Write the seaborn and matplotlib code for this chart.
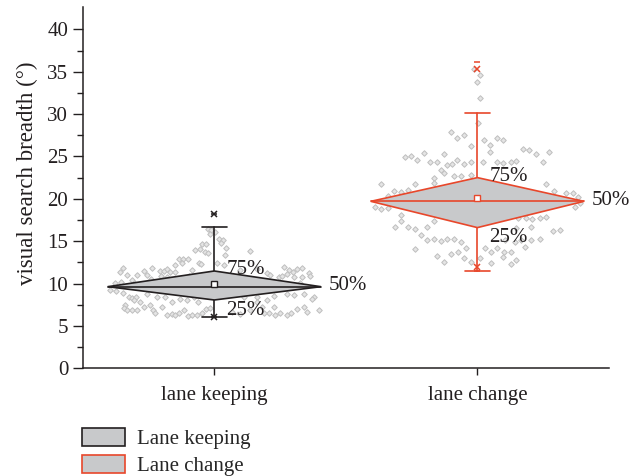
import numpy as np
import pandas as pd
import matplotlib
matplotlib.use("Agg")
import matplotlib.pyplot as plt
from matplotlib.patches import Polygon, Patch
import seaborn as sns

# ---- data -------------------------------------------------------------
categories = ["lane keeping", "lane change"]
legend_labels = ["Lane keeping", "Lane change"]

q25 = [8.06, 16.6]
median = [9.63, 19.7]
q75 = [11.48, 22.5]
mean = [9.95, 20.06]
whisker_lo = [6.09, 11.5]
whisker_hi = [16.7, 30.1]
p01 = [6.05, 11.9]
p99 = [18.15, 35.3]
data_min = [6.09, 11.5]
data_max = [18.15, 36.2]

# individual observations: horizontal spread (category units) and value (deg)
keep_dx = [-0.025, -0.011, 0.004, -0.018, 0.019, 0.032, -0.047, -0.030, 0.025,
           -0.072, -0.053, -0.037, -0.024, 0.044, 0.134, 0.042, -0.134, -0.119,
           -0.101, -0.123, -0.057, -0.051, 0.010, 0.038, -0.148, -0.347, -0.360,
           -0.269, -0.236, -0.208, -0.193, -0.180, -0.167, -0.148, -0.085, 0.162,
           0.200, 0.266, 0.283, 0.299, 0.314, 0.333, 0.360, -0.332, -0.313,
           -0.292, -0.256, -0.241, -0.202, -0.180, -0.098, 0.213, 0.245, 0.259,
           0.276, 0.302, 0.333, 0.365, -0.376, -0.355, -0.307, 0.327, -0.395,
           -0.373, -0.347, -0.326, -0.313, -0.297, -0.281, -0.307, -0.256,
           -0.218, -0.186, -0.161, -0.129, -0.104, -0.079, -0.063, 0.112, 0.162,
           0.200, 0.226, 0.276, 0.302, 0.340, 0.378, 0.371, 0.162, -0.338,
           -0.345, -0.330, -0.313, -0.294, -0.269, -0.246, -0.233, -0.224,
           -0.199, -0.180, -0.161, -0.148, -0.136, -0.117, -0.101, -0.085,
           -0.066, -0.047, -0.030, -0.015, 0.067, 0.099, 0.137, 0.181, 0.207,
           0.232, 0.251, 0.276, 0.292, 0.314, 0.340, 0.352, 0.397, 0.226, 0.188,
           0.099]
keep_val = [16.40, 16.32, 16.13, 15.81, 15.22, 15.14, 14.67, 14.63, 14.75,
            13.96, 14.08, 13.77, 13.65, 14.24, 13.88, 13.37, 12.90, 12.94,
            12.86, 12.47, 12.47, 12.27, 12.39, 12.19, 12.19, 11.80, 11.41,
            11.48, 11.88, 11.48, 11.52, 11.68, 11.41, 11.41, 11.60, 11.72,
            11.29, 11.92, 11.60, 11.41, 11.68, 11.88, 11.29, 11.01, 10.42,
            11.01, 11.01, 10.50, 10.89, 10.74, 10.89, 10.97, 10.74, 10.89,
            11.13, 10.74, 10.82, 10.89, 10.11, 10.23, 10.11, 10.11, 9.24,
            9.16, 8.85, 8.46, 8.26, 8.46, 7.87, 8.06, 8.77,
            8.46, 8.46, 7.87, 8.14, 8.06, 8.46, 7.87, 8.46, 8.38,
            8.06, 8.53, 8.77, 8.65, 8.77, 8.46, 8.14, 7.87, 7.47,
            7.08, 6.88, 6.88, 6.88, 7.20, 7.47, 6.88, 6.57,
            7.20, 6.29, 6.41, 6.29, 6.49, 6.88, 6.17, 6.29,
            6.29, 6.49, 6.96, 7.08, 6.69, 6.41, 6.88, 7.28, 6.57,
            6.29, 6.49, 6.29, 6.49, 6.96, 7.28, 6.69, 6.88, 7.20, 6.49,
            11.60]

change_dx = [-0.013, 0.009, -0.001, 0.010, 0.003, -0.101, -0.051, -0.076, 0.024,
             0.074, 0.098, -0.025, 0.047, 0.048, -0.276, -0.253, -0.203, -0.228,
             -0.127, -0.181, -0.152, -0.114, -0.096, -0.076, -0.051, -0.025,
             0.022, 0.076, 0.098, 0.129, 0.148, 0.172, 0.196, 0.224, 0.272,
             0.250, -0.139, -0.165, -0.127, -0.089, -0.061, -0.025, -0.165,
             -0.365, -0.289, -0.264, -0.238, -0.318, -0.340, 0.262, 0.292,
             0.338, 0.364, 0.383, 0.389, -0.388, -0.365, -0.340, -0.292,
             -0.292, -0.315, -0.264, -0.238, -0.215, -0.190, -0.165, -0.190,
             -0.165, -0.139, -0.114, -0.089, -0.061, -0.042, -0.074, -0.101,
             -0.127, -0.152, -0.051, -0.025, -0.238, 0.155, 0.186, 0.207,
             0.237, 0.262, 0.205, 0.148, 0.288, 0.313, 0.237, 0.203, 0.167,
             0.142, 0.104, 0.076, 0.180, 0.028, 0.051, 0.101, 0.127, 0.098,
             0.051, 0.127, 0.148, 0.009, 0.370]
change_val = [35.32, 34.61, 33.74, 31.86, 28.98, 27.92, 27.53, 27.14, 26.94,
              27.14, 26.94, 26.27, 26.35, 25.48, 24.97, 25.09, 25.44, 24.54,
              25.25, 24.30, 24.38, 23.99, 24.11, 24.58, 24.07, 24.38,
              24.38, 24.30, 24.19, 24.38, 24.46, 25.84, 25.76, 25.25, 25.48,
              24.30, 23.40, 22.49, 23.01, 22.73, 22.73, 22.81, 21.83,
              21.71, 20.84, 21.04, 21.71, 20.92, 20.37, 21.71, 20.92,
              20.65, 20.65, 20.25, 19.47, 19.07, 18.80, 18.88, 18.09,
              17.38, 16.71, 16.71, 16.44, 15.73, 16.71, 17.38, 15.14,
              15.26, 15.02, 15.26, 15.26, 14.86, 14.16, 13.76, 13.45,
              12.50, 13.29, 12.98, 12.50, 14.08, 17.78, 17.70, 17.62,
              17.70, 17.89, 16.71, 16.52, 16.20, 16.32, 15.26, 15.14, 15.14,
              14.94, 15.14, 14.22, 14.36, 14.16, 13.76, 13.76, 13.68, 13.17,
              12.39, 12.26, 12.78, 12.98, 19.07]

# ---- styling ------------------------------------------------------------
sns.set_theme(style="ticks")
plt.rcParams["font.family"] = ["Liberation Serif", "DejaVu Serif"]
TXT = "#231f20"
edge_colors = ["#231f20", "#e8472b"]
fill_color = "#c8c9cb"
FS = 15

fig = plt.figure(figsize=(6.33, 4.76), dpi=100)
ax = fig.add_axes([0.1307, 0.2263, 0.962 - 0.1307, 0.9847 - 0.2263])

pts = pd.DataFrame({
    "x": [0 + d for d in keep_dx] + [1 + d for d in change_dx],
    "y": keep_val + change_val,
})
sns.scatterplot(data=pts, x="x", y="y", ax=ax, marker="D", s=8,
                color="#e4e4e4", edgecolor="#bfbfbf", linewidth=0.7, zorder=1)

half_w = 0.405
cap_w = 0.048
for i, cat in enumerate(categories):
    c = edge_colors[i]
    diamond = Polygon([[i - half_w, median[i]], [i, q75[i]],
                       [i + half_w, median[i]], [i, q25[i]]],
                      closed=True, facecolor=fill_color, edgecolor=c,
                      linewidth=1.2, zorder=3)
    ax.add_patch(diamond)
    ax.plot([i - half_w, i + half_w], [median[i], median[i]], color=c, lw=1.2, zorder=4)
    # whiskers and caps
    ax.plot([i, i], [q75[i], whisker_hi[i]], color=c, lw=1.2, zorder=2)
    ax.plot([i, i], [q25[i], whisker_lo[i]], color=c, lw=1.2, zorder=2)
    for w in (whisker_lo[i], whisker_hi[i]):
        ax.plot([i - cap_w, i + cap_w], [w, w], color=c, lw=1.2, zorder=2)
    # mean, percentile and extreme markers
    ax.plot(i, mean[i], marker="s", ms=4, mfc="white", mec=c, mew=1.0, zorder=5)
    ax.plot([i, i], [p01[i], p99[i]], ls="none", marker="x", ms=4, mec=c, mew=1.1, zorder=5)
    ax.plot([i, i], [data_min[i], data_max[i]], ls="none", marker="_", ms=5, mec=c, mew=1.1, zorder=5)
    # quartile labels
    ax.text(i + 0.046, q75[i] - 0.4, "75%", fontsize=FS, color=TXT, va="baseline", zorder=6)
    ax.text(i + 0.046, q25[i] - 1.72, "25%", fontsize=FS, color=TXT, va="baseline", zorder=6)
    ax.text(i + half_w + 0.03, median[i] - 0.4, "50%", fontsize=FS, color=TXT, va="baseline", zorder=6)

ax.set_xlim(-0.5, 1.5)
ax.set_ylim(0, 42.6)
ax.set_xticks([0, 1])
ax.set_xticklabels(categories)
ax.set_yticks(np.arange(0, 41, 5))
ax.set_yticks(np.arange(2.5, 41, 5), minor=True)
ax.set_xlabel("")
ax.set_ylabel("visual search breadth (°)", fontsize=16.5, color=TXT)
ax.yaxis.set_label_coords(-0.085, 0.54)

for s in ("top", "right"):
    ax.spines[s].set_visible(False)
for s in ("left", "bottom"):
    ax.spines[s].set_color(TXT)
    ax.spines[s].set_linewidth(1.1)
ax.tick_params(axis="both", which="major", labelsize=FS, colors=TXT, width=1.0)
ax.tick_params(axis="y", which="major", length=7)
ax.tick_params(axis="y", which="minor", length=4, width=1.0, color=TXT)
ax.tick_params(axis="x", which="major", length=5, pad=8)

handles = [Patch(facecolor=fill_color, edgecolor=edge_colors[k], linewidth=1.2,
                 label=legend_labels[k]) for k in range(2)]
fig.legend(handles=handles, loc="upper left", bbox_to_anchor=(0.129, 0.101),
           frameon=False, fontsize=FS, handlelength=2.1, handleheight=0.95,
           handletextpad=0.55, labelspacing=0.3, borderaxespad=0, borderpad=0)

fig.savefig("out.png", dpi=100)
